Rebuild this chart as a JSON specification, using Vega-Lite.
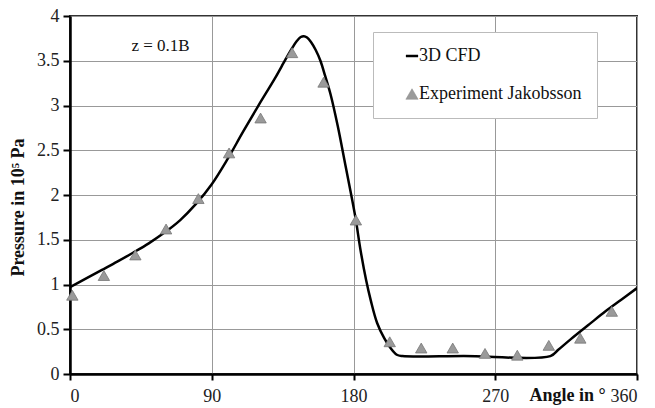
{
  "$schema": "https://vega.github.io/schema/vega-lite/v6.json",
  "width": 567,
  "height": 358,
  "autosize": {"type": "none"},
  "padding": {"left": 70, "top": 16, "right": 18, "bottom": 34},
  "background": "white",
  "config": {
    "font": "Liberation Serif",
    "view": {"stroke": "#333", "strokeWidth": 2},
    "axis": {
      "domainColor": "#000",
      "domainWidth": 2.5,
      "tickColor": "#000",
      "tickWidth": 2,
      "gridColor": "#999",
      "gridWidth": 1
    }
  },
  "datasets": {
    "cfd": [
      {"angle": 0, "pressure": 0.97},
      {"angle": 10, "pressure": 1.065},
      {"angle": 20, "pressure": 1.16},
      {"angle": 30, "pressure": 1.255},
      {"angle": 40, "pressure": 1.355},
      {"angle": 50, "pressure": 1.46},
      {"angle": 60, "pressure": 1.58},
      {"angle": 70, "pressure": 1.72},
      {"angle": 80, "pressure": 1.9},
      {"angle": 90, "pressure": 2.12},
      {"angle": 100, "pressure": 2.4},
      {"angle": 110, "pressure": 2.71},
      {"angle": 120, "pressure": 3.01},
      {"angle": 130, "pressure": 3.3},
      {"angle": 137, "pressure": 3.52},
      {"angle": 141, "pressure": 3.64},
      {"angle": 144, "pressure": 3.72},
      {"angle": 146.5, "pressure": 3.765},
      {"angle": 148.5, "pressure": 3.775},
      {"angle": 150.5, "pressure": 3.76},
      {"angle": 153, "pressure": 3.71},
      {"angle": 156, "pressure": 3.62},
      {"angle": 159, "pressure": 3.5},
      {"angle": 162, "pressure": 3.33},
      {"angle": 165.5, "pressure": 3.12},
      {"angle": 170, "pressure": 2.77},
      {"angle": 175, "pressure": 2.32},
      {"angle": 179, "pressure": 1.96},
      {"angle": 181.5, "pressure": 1.72},
      {"angle": 184.5, "pressure": 1.38},
      {"angle": 188, "pressure": 1.05},
      {"angle": 191, "pressure": 0.82},
      {"angle": 195, "pressure": 0.57},
      {"angle": 199.5, "pressure": 0.4},
      {"angle": 203.5, "pressure": 0.29},
      {"angle": 207.5, "pressure": 0.215},
      {"angle": 211, "pressure": 0.2},
      {"angle": 250, "pressure": 0.2},
      {"angle": 305, "pressure": 0.2},
      {"angle": 310, "pressure": 0.27},
      {"angle": 318, "pressure": 0.39},
      {"angle": 330, "pressure": 0.56},
      {"angle": 340, "pressure": 0.7},
      {"angle": 350, "pressure": 0.83},
      {"angle": 360, "pressure": 0.96}
    ],
    "exp": [
      {"angle": 1.5, "pressure": 0.88, "series": "Experiment Jakobsson"},
      {"angle": 21.5, "pressure": 1.1, "series": "Experiment Jakobsson"},
      {"angle": 41.5, "pressure": 1.33, "series": "Experiment Jakobsson"},
      {"angle": 61, "pressure": 1.62, "series": "Experiment Jakobsson"},
      {"angle": 81.5, "pressure": 1.96, "series": "Experiment Jakobsson"},
      {"angle": 101, "pressure": 2.47, "series": "Experiment Jakobsson"},
      {"angle": 121, "pressure": 2.86, "series": "Experiment Jakobsson"},
      {"angle": 141, "pressure": 3.59, "series": "Experiment Jakobsson"},
      {"angle": 161, "pressure": 3.26, "series": "Experiment Jakobsson"},
      {"angle": 181.5, "pressure": 1.72, "series": "Experiment Jakobsson"},
      {"angle": 203, "pressure": 0.36, "series": "Experiment Jakobsson"},
      {"angle": 223, "pressure": 0.29, "series": "Experiment Jakobsson"},
      {"angle": 243, "pressure": 0.29, "series": "Experiment Jakobsson"},
      {"angle": 263.5, "pressure": 0.23, "series": "Experiment Jakobsson"},
      {"angle": 284, "pressure": 0.21, "series": "Experiment Jakobsson"},
      {"angle": 304, "pressure": 0.32, "series": "Experiment Jakobsson"},
      {"angle": 324, "pressure": 0.4, "series": "Experiment Jakobsson"},
      {"angle": 344, "pressure": 0.7, "series": "Experiment Jakobsson"}
    ],
    "note": [
      {"angle": 39, "pressure": 3.67, "label": "z = 0.1B"}
    ]
  },
  "layer": [
    {
      "data": {"name": "cfd"},
      "mark": {"type": "line", "color": "#000", "strokeWidth": 2.5, "interpolate": "catmull-rom", "clip": true},
      "encoding": {
        "x": {
          "field": "angle", "type": "quantitative",
          "scale": {"domain": [0, 360], "nice": false},
          "axis": {
            "values": [0, 90, 180, 270, 360],
            "title": "Angle in °",
            "titleX": 497, "titleY": 21,
            "titleAlign": "center", "titleBaseline": "middle",
            "titleFont": "Liberation Serif", "titleFontSize": 18, "titleFontWeight": "bold", "titleColor": "#111",
            "labelFont": "Liberation Serif", "labelFontSize": 18, "labelColor": "#222",
            "tickSize": 6, "labelPadding": 7,
            "grid": true
          }
        },
        "y": {
          "field": "pressure", "type": "quantitative",
          "scale": {"domain": [0, 4], "nice": false},
          "axis": {
            "values": [0, 0.5, 1, 1.5, 2, 2.5, 3, 3.5, 4],
            "format": "~g",
            "title": "Pressure in 10⁵ Pa",
            "titleX": -52, "titleY": 191,
            "titleAlign": "center", "titleBaseline": "middle",
            "titleFont": "Liberation Serif", "titleFontSize": 18, "titleFontWeight": "bold", "titleColor": "#111",
            "labelFont": "Liberation Serif", "labelFontSize": 18, "labelColor": "#222",
            "tickSize": 7, "labelPadding": 4,
            "grid": true
          }
        }
      }
    },
    {
      "data": {"name": "exp"},
      "mark": {"type": "point", "filled": true, "size": 130, "stroke": "#777", "strokeWidth": 0.8, "opacity": 1},
      "encoding": {
        "x": {"field": "angle", "type": "quantitative"},
        "y": {"field": "pressure", "type": "quantitative"},
        "color": {
          "field": "series", "type": "nominal",
          "scale": {"domain": ["3D CFD", "Experiment Jakobsson"], "range": ["#000000", "#9a9a9a"]},
          "legend": {
            "title": null,
            "orient": "none",
            "legendX": 303,
            "legendY": 16,
            "direction": "vertical",
            "fillColor": "white",
            "strokeColor": "#bbb",
            "padding": 15,
            "rowPadding": 20,
            "labelFont": "Liberation Serif",
            "labelFontSize": 18,
            "labelColor": "#111",
            "labelLimit": 300,
            "labelExpr": "datum.label + '\u2002\u2009'",
            "symbolSize": 150,
            "symbolOffset": 15,
            "labelOffset": -2,
            "encoding": {
              "symbols": {
                "stroke": {"value": {"signal": "datum.value === '3D CFD' ? '#000' : '#8a8a8a'"}},
                "strokeWidth": {"value": {"signal": "datum.value === '3D CFD' ? 2.5 : 0.5"}}
              }
            }
          }
        },
        "shape": {
          "field": "series", "type": "nominal",
          "scale": {"domain": ["3D CFD", "Experiment Jakobsson"], "range": ["stroke", "triangle-up"]},
          "legend": null
        }
      }
    },
    {
      "data": {"name": "note"},
      "mark": {"type": "text", "align": "left", "baseline": "middle", "font": "Liberation Serif", "fontSize": 17, "color": "#111"},
      "encoding": {
        "x": {"field": "angle", "type": "quantitative"},
        "y": {"field": "pressure", "type": "quantitative"},
        "text": {"field": "label"}
      }
    }
  ]
}
